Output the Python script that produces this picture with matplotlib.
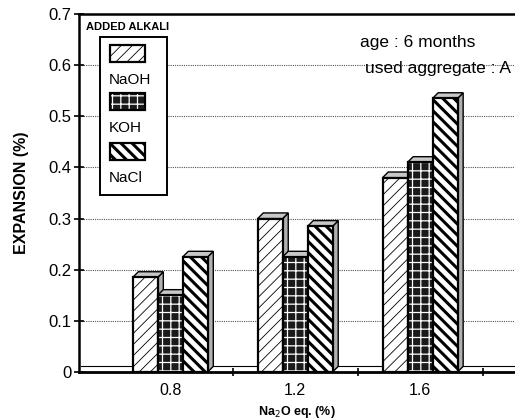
import numpy as np
import matplotlib
matplotlib.use('Agg')
import matplotlib.pyplot as plt
from matplotlib.patches import Rectangle, Polygon

plt.rcParams['font.family'] = ['Liberation Sans', 'DejaVu Sans']

# data
categories = ['0.8', '1.2', '1.6']
alkalis = ['NaOH', 'KOH', 'NaCl']
naoh = [0.185, 0.30, 0.38]
koh = [0.15, 0.225, 0.41]
nacl = [0.225, 0.285, 0.535]
series = [naoh, koh, nacl]
yticks = [0, 0.1, 0.2, 0.3, 0.4, 0.5, 0.6, 0.7]
ytick_labels = ['0', '0.1', '0.2', '0.3', '0.4', '0.5', '0.6', '0.7']

# styles per series: face, hatch, hatch colour, hatch width
styles = [
    dict(face='white', hatch='///', hcol='black', hlw=0.6),
    dict(face='#1a1a1a', hatch='++', hcol='white', hlw=0.9),
    dict(face='white', hatch='\\\\\\', hcol='black', hlw=2.2),
]

W, H = 515, 419
fig = plt.figure(figsize=(W / 100, H / 100), dpi=100)
ax = fig.add_axes([79 / W, 1 - 372 / H, 436 / W, 358 / H])

x = np.arange(len(categories))
width = 0.2
dx, dy = 0.045, 0.011   # 3d depth in data units

for i, (vals, st) in enumerate(zip(series, styles)):
    xs = x + (i - 1) * width
    for j, (xc, v) in enumerate(zip(xs, vals)):
        z = 3 + i
        x0, x1 = xc - width / 2, xc + width / 2
        # side face
        side = Polygon([(x1, 0), (x1 + dx, dy), (x1 + dx, v + dy), (x1, v)],
                       closed=True, facecolor='#b0b0b0', edgecolor='black',
                       linewidth=1.0, zorder=z)
        ax.add_patch(side)
        # top face
        top = Polygon([(x0, v), (x0 + dx, v + dy), (x1 + dx, v + dy), (x1, v)],
                      closed=True, facecolor='#c8c8c8', edgecolor='black',
                      linewidth=1.0, zorder=z)
        ax.add_patch(top)
        # front face
        front = Rectangle((x0, 0), width, v, facecolor=st['face'],
                          edgecolor=st['hcol'], hatch=st['hatch'],
                          linewidth=0, zorder=z + 0.1)
        if hasattr(front, 'set_hatch_linewidth'):
            front.set_hatch_linewidth(st['hlw'])
        ax.add_patch(front)
        ax.add_patch(Rectangle((x0, 0), width, v, facecolor='none',
                               edgecolor='black', linewidth=1.6, zorder=z + 0.2))

ax.set_xlim(-0.73, 2.76)
ax.set_ylim(0, 0.7)
ax.set_yticks(yticks)
ax.set_yticklabels(ytick_labels)
ax.set_xticks(x)
ax.set_xticklabels(categories)
ax.set_xticks(x + 0.5, minor=True)
ax.tick_params(axis='x', which='major', length=0, pad=8, labelsize=11.5)
ax.tick_params(axis='x', which='minor', length=6, direction='inout', width=1.2)
ax.tick_params(axis='y', length=7, direction='inout', width=1.2, labelsize=12, pad=2)

for yv in yticks[1:-1]:
    ax.axhline(yv, color='#555555', linestyle=(0, (1, 1)), linewidth=0.8, zorder=1)
# 3d floor
ax.plot([-0.73 + 0.02, 2.76], [0.012, 0.012], color='black', linewidth=0.8, zorder=2)

ax.spines['right'].set_visible(False)
ax.spines['left'].set_linewidth(1.8)
ax.spines['bottom'].set_linewidth(2.0)
ax.spines['top'].set_linewidth(1.8)

ax.set_ylabel('EXPANSION (%)', fontsize=11.5, fontweight='bold', labelpad=14)
ax.set_xlabel('Na$_2$O eq. (%)', fontsize=9, fontweight='bold', labelpad=4)

ax.text((475 - 79) / 436, 1 - (43 - 14) / 358, 'age : 6 months',
        transform=ax.transAxes, ha='right', va='center', fontsize=12.5)
ax.text((511 - 79) / 436, 1 - (68 - 14) / 358, 'used aggregate : A',
        transform=ax.transAxes, ha='right', va='center', fontsize=12.5)

# legend drawn by hand
fig.text(86 / W, 1 - 27 / H, 'ADDED ALKALI', fontsize=8, fontweight='bold',
         va='center', ha='left')
fig.add_artist(Rectangle((100 / W, 1 - 195 / H), 67 / W, 158 / H,
                         transform=fig.transFigure, facecolor='white',
                         edgecolor='black', linewidth=1.4, zorder=10))
sw_top = [45, 93, 143]
lab_y = [80, 128, 178]
for name, st, sy, ly in zip(alkalis, styles, sw_top, lab_y):
    p = Rectangle((110 / W, 1 - (sy + 17) / H), 35 / W, 17 / H,
                  transform=fig.transFigure, facecolor=st['face'],
                  edgecolor=st['hcol'], hatch=st['hatch'], linewidth=0, zorder=11)
    if hasattr(p, 'set_hatch_linewidth'):
        p.set_hatch_linewidth(st['hlw'])
    fig.add_artist(p)
    fig.add_artist(Rectangle((110 / W, 1 - (sy + 17) / H), 35 / W, 17 / H,
                             transform=fig.transFigure, facecolor='none',
                             edgecolor='black', linewidth=1.6, zorder=12))
    fig.text(109 / W, 1 - ly / H, name, fontsize=11, va='center', ha='left', zorder=13)

fig.savefig('out.png', dpi=100)
